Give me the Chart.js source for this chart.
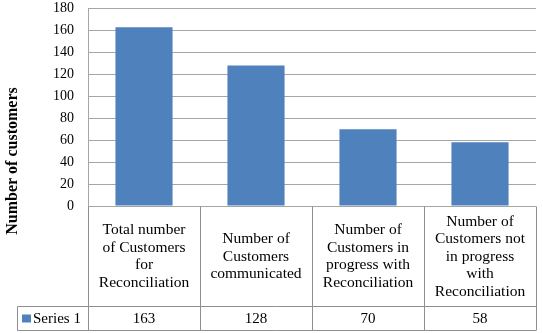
<!DOCTYPE html>
<html>
<head>
<meta charset="utf-8">
<title>Customers reconciliation</title>
<script src="https://cdn.jsdelivr.net/npm/chart.js@4/dist/chart.umd.min.js"></script>
<style>
  html, body { margin: 0; padding: 0; background: #fff; }
  #wrap { width: 543px; height: 333px; }
</style>
</head>
<body>
<div id="wrap"><canvas id="chart" width="543" height="333"></canvas></div>
<script>
// categories (one array of lines per column of the data table)
const categories = [
  ["Total number", "of Customers", "for", "Reconciliation"],
  ["Number of", "Customers", "communicated"],
  ["Number of", "Customers in", "progress with", "Reconciliation"],
  ["Number of", "Customers not", "in progress", "with", "Reconciliation"]
];
const seriesName = "Series 1";
const seriesValues = [163, 128, 70, 58];
const yTicks = [0, 20, 40, 60, 80, 100, 120, 140, 160, 180];
const yTitle = "Number of customers";

const BAR_BLUE = "#4f81bd";
const GRID = "#a6a6a6";
const TABLE_LINE = "#8f8f8f";
const SERIF = "'Liberation Serif', 'Times New Roman', serif";

// draws the data table under the plot + the rotated axis title
const dataTable = {
  id: "dataTable",
  afterDraw(chart) {
    const { ctx, chartArea } = chart;
    const x = chart.scales.x;
    const n = categories.length;
    const step = chartArea.width / n;
    const top = Math.round(chartArea.bottom) + 0.5;
    const mid = top + 100;
    const bot = top + 124;
    const keyLeft = 17.5;

    ctx.save();
    ctx.strokeStyle = TABLE_LINE;
    ctx.lineWidth = 1;
    ctx.beginPath();
    for (let i = 0; i <= n; i++) {
      const xp = Math.round(chartArea.left + i * step) + 0.5;
      ctx.moveTo(xp, top);
      ctx.lineTo(xp, bot);
    }
    ctx.moveTo(keyLeft, mid); ctx.lineTo(chartArea.right, mid);
    ctx.moveTo(keyLeft, bot); ctx.lineTo(chartArea.right, bot);
    ctx.moveTo(keyLeft, mid); ctx.lineTo(keyLeft, bot);
    ctx.stroke();

    // category labels, centred in their cells
    ctx.fillStyle = "#000";
    ctx.textAlign = "center";
    ctx.textBaseline = "middle";
    ctx.font = "15.5px " + SERIF;
    const lh = 17.5;
    categories.forEach((lines, i) => {
      const cx = x.getPixelForValue(i);
      const cy = top + 50;
      const start = cy - (lines.length - 1) * lh / 2;
      lines.forEach((t, j) => ctx.fillText(t, cx, start + j * lh));
    });

    // value row
    ctx.font = "15px " + SERIF;
    const vy = (mid + bot) / 2 + 1;
    seriesValues.forEach((v, i) => {
      ctx.fillText(String(v), x.getPixelForValue(i), vy);
    });

    // legend key + series name
    ctx.fillStyle = BAR_BLUE;
    ctx.fillRect(22, vy - 5, 9, 8);
    ctx.fillStyle = "#000";
    ctx.textAlign = "left";
    ctx.fillText(seriesName, 33, vy);

    // y axis title
    ctx.translate(13, 161);
    ctx.rotate(-Math.PI / 2);
    ctx.textAlign = "center";
    ctx.font = "bold 16px " + SERIF;
    ctx.fillText(yTitle, 0, 0);
    ctx.restore();
  }
};

new Chart(document.getElementById("chart"), {
  type: "bar",
  data: {
    labels: categories.map(c => c.join(" ")),
    datasets: [{
      label: seriesName,
      data: seriesValues,
      backgroundColor: BAR_BLUE,
      barPercentage: 0.51,
      categoryPercentage: 1
    }]
  },
  options: {
    responsive: false,
    animation: false,
    devicePixelRatio: 1,
    layout: { padding: { top: 8.5, right: 7, bottom: 127, left: 0 } },
    plugins: {
      legend: { display: false },
      tooltip: { enabled: false }
    },
    scales: {
      x: { display: false },
      y: {
        min: yTicks[0],
        max: yTicks[yTicks.length - 1],
        afterBuildTicks: s => { s.ticks = yTicks.map(v => ({ value: v })); },
        // fixed axis width, and no extra room above/below for the end labels
        afterFit: s => { s.width = 88; s.paddingTop = 0; s.paddingBottom = 0; },
        ticks: {
          color: "#000",
          padding: 14,
          font: { family: SERIF, size: 14 }
        },
        grid: { color: GRID, drawTicks: false },
        border: { display: true, color: GRID }
      }
    }
  },
  plugins: [dataTable]
});
</script>
</body>
</html>
